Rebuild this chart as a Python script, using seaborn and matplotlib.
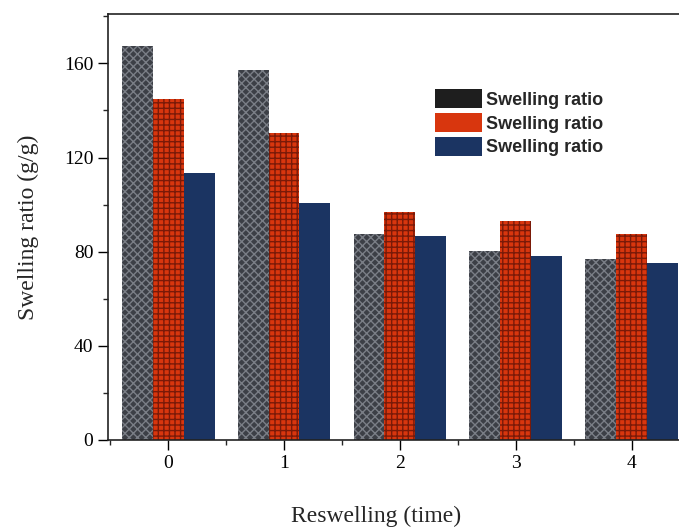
import matplotlib
matplotlib.use("Agg")
import matplotlib.pyplot as plt
import seaborn as sns
import pandas as pd
from matplotlib.patches import Patch
from matplotlib.ticker import MultipleLocator

times = ["0", "1", "2", "3", "4"]
series_a = [167.5, 157.0, 87.5, 80.5, 77.0]
series_b = [145.0, 130.5, 97.0, 93.0, 87.5]
series_c = [113.5, 100.5, 86.5, 78.0, 75.0]
series_names = ["A", "B", "C"]
legend_labels = ["Swelling ratio", "Swelling ratio", "Swelling ratio"]

rows = []
for name, vals in zip(series_names, [series_a, series_b, series_c]):
    for t, v in zip(times, vals):
        rows.append({"time": t, "value": v, "series": name})
df = pd.DataFrame(rows)

sns.set_style("ticks")
plt.rcParams['font.family'] = ['Liberation Serif', 'DejaVu Serif']
plt.rcParams['hatch.linewidth'] = 1.0

faces = ["#3c3f46", "#d8360e", "#1b3462"]
hatch_cols = ["#7a7e86", "#7a1a08", "#1b3462"]
hatches = ["xxxx", "+++", ""]

fig = plt.figure(figsize=(6.79, 5.27), dpi=100)
ax = fig.add_axes([108 / 679, 1 - 440 / 527, 1 - 108 / 679, (440 - 14) / 527])
sns.barplot(data=df, x="time", y="value", hue="series", palette=faces,
            width=0.8, ax=ax, legend=False, saturation=1)

n = len(times)
for i, p in enumerate(ax.patches[:3 * n]):
    s = i // n
    p.set_facecolor(faces[s])
    p.set_edgecolor(hatch_cols[s])
    p.set_hatch(hatches[s])
    p.set_linewidth(0)

ax.set_xlim(-0.52, 4.41)
ax.set_ylim(0, 181)
ax.yaxis.set_major_locator(MultipleLocator(40))
ax.yaxis.set_minor_locator(MultipleLocator(20))
ax.set_xticks(range(n))
ax.set_xticks([i + 0.5 for i in range(-1, n - 1)], minor=True)
ax.set_xticklabels(times)
ax.tick_params(axis='both', which='major', length=7, width=1, labelsize=14, colors='black')
ax.tick_params(axis='both', which='minor', length=3.5, width=1)
ax.spines['right'].set_visible(False)
for sp in ['left', 'top', 'bottom']:
    ax.spines[sp].set_linewidth(1.2)
    ax.spines[sp].set_color('#222222')

ax.set_xlabel("Reswelling (time)", fontsize=17, labelpad=25)
ax.xaxis.label.set_x(0.47)
ax.set_ylabel("Swelling ratio (g/g)", fontsize=17, labelpad=18)

handles = [Patch(facecolor=c, edgecolor='none') for c in ["#1e1e1e", "#d8360e", "#1b3462"]]
ax.legend(handles, legend_labels, loc='upper left', bbox_to_anchor=(0.56, 0.84),
          frameon=False, prop={'family': 'Liberation Sans', 'weight': 'bold', 'size': 13},
          handlelength=2.6, handleheight=1.2, handletextpad=0.25, labelspacing=0.25,
          borderaxespad=0)

fig.savefig("out.png", dpi=100)
